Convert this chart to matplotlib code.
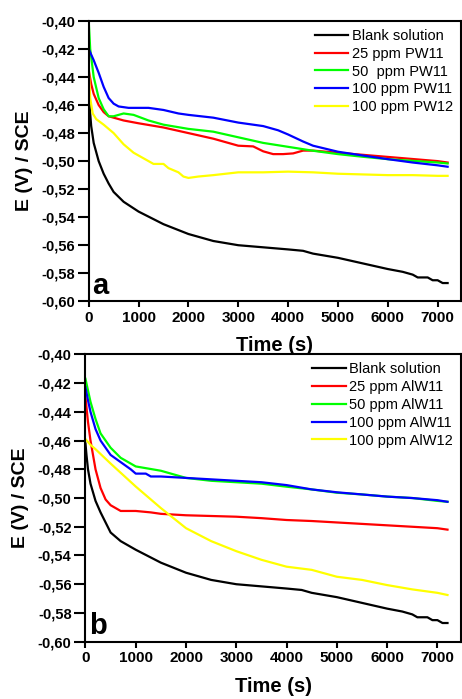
import matplotlib
matplotlib.use("Agg")
import matplotlib.pyplot as plt
from matplotlib.ticker import FuncFormatter

plt.rcParams["font.family"] = ["Liberation Sans", "DejaVu Sans"]

# ---- panel a (PW series) ----
a_black_t = [0, 20, 50, 100, 200, 300, 400, 500, 700, 1000, 1500, 2000, 2500, 3000, 3500, 4000,
             4300, 4500, 5000, 5500, 6000, 6300, 6500, 6600, 6800, 6900, 7000, 7100, 7200]
a_black = [-0.450, -0.462, -0.475, -0.487, -0.500, -0.509, -0.516, -0.522, -0.529, -0.536, -0.545,
           -0.552, -0.557, -0.560, -0.5615, -0.563, -0.564, -0.566, -0.569, -0.573, -0.577, -0.579,
           -0.581, -0.583, -0.583, -0.585, -0.585, -0.587, -0.587]

a_red_t = [0, 50, 100, 200, 300, 400, 500, 700, 1000, 1500, 2000, 2500, 3000, 3300, 3500, 3700,
           3900, 4100, 4300, 4500, 5000, 5500, 6000, 6500, 7000, 7200]
a_red = [-0.435, -0.445, -0.452, -0.460, -0.465, -0.468, -0.469, -0.471, -0.473, -0.476, -0.480,
         -0.484, -0.489, -0.4895, -0.493, -0.495, -0.495, -0.4945, -0.4925, -0.4925, -0.494, -0.4955,
         -0.497, -0.4985, -0.500, -0.501]

a_green_t = [0, 30, 100, 200, 300, 400, 500, 700, 900, 1200, 1500, 2000, 2500, 3000, 3500, 4000,
             4500, 5000, 5500, 6000, 6500, 7000, 7200]
a_green = [-0.400, -0.420, -0.440, -0.455, -0.463, -0.468, -0.468, -0.466, -0.467, -0.471, -0.474,
           -0.477, -0.479, -0.483, -0.487, -0.4898, -0.4926, -0.495, -0.4969, -0.4986, -0.4998,
           -0.501, -0.5017]

a_blue_t = [0, 50, 100, 200, 300, 400, 500, 600, 800, 1000, 1200, 1500, 1800, 2000, 2500, 3000,
            3500, 3800, 4000, 4300, 4500, 5000, 5500, 6000, 6500, 7000, 7200]
a_blue = [-0.420, -0.424, -0.428, -0.437, -0.447, -0.455, -0.459, -0.461, -0.462, -0.462, -0.462,
          -0.4635, -0.466, -0.467, -0.469, -0.4725, -0.475, -0.478, -0.481, -0.486, -0.489, -0.4933,
          -0.496, -0.4986, -0.501, -0.503, -0.504]

a_yellow_t = [0, 30, 80, 150, 300, 500, 700, 900, 1100, 1300, 1500, 1600, 1800, 1900, 2000, 2200,
              2500, 3000, 3500, 4000, 4500, 5000, 5500, 6000, 6500, 7000, 7200]
a_yellow = [-0.433, -0.455, -0.466, -0.470, -0.474, -0.480, -0.488, -0.494, -0.498, -0.502, -0.502,
            -0.505, -0.508, -0.511, -0.512, -0.511, -0.510, -0.508, -0.508, -0.5075, -0.508,
            -0.509, -0.5095, -0.510, -0.510, -0.5105, -0.5105]

# ---- panel b (AlW series) ----
b_black_t = a_black_t
b_black = [-0.462, -0.470, -0.480, -0.490, -0.502, -0.510, -0.517, -0.524, -0.530, -0.536, -0.545,
           -0.552, -0.557, -0.560, -0.5615, -0.563, -0.564, -0.566, -0.569, -0.573, -0.577, -0.579,
           -0.581, -0.583, -0.583, -0.585, -0.585, -0.587, -0.587]

b_red_t = [0, 50, 100, 200, 300, 400, 500, 700, 1000, 1300, 1500, 2000, 2500, 3000, 3500, 4000,
           4500, 5000, 5500, 6000, 6500, 7000, 7200]
b_red = [-0.430, -0.447, -0.460, -0.480, -0.493, -0.501, -0.505, -0.509, -0.509, -0.510, -0.511,
         -0.512, -0.5125, -0.513, -0.514, -0.5153, -0.516, -0.517, -0.518, -0.519, -0.520, -0.521,
         -0.522]

b_green_t = [0, 50, 100, 200, 300, 500, 700, 1000, 1500, 2000, 2500, 3000, 3500, 4000, 4500, 5000,
             5500, 6000, 6500, 7000, 7200]
b_green = [-0.417, -0.425, -0.433, -0.445, -0.455, -0.465, -0.472, -0.478, -0.481, -0.486, -0.488,
           -0.489, -0.490, -0.4921, -0.494, -0.4963, -0.4975, -0.499, -0.500, -0.502, -0.5026]

b_blue_t = [0, 50, 100, 200, 300, 500, 700, 900, 1000, 1200, 1300, 1500, 2000, 2500, 3000, 3500,
            4000, 4500, 5000, 5500, 6000, 6500, 7000, 7200]
b_blue = [-0.423, -0.432, -0.440, -0.452, -0.460, -0.470, -0.475, -0.480, -0.483, -0.483, -0.485,
          -0.485, -0.486, -0.487, -0.488, -0.489, -0.491, -0.494, -0.496, -0.4975, -0.499, -0.500,
          -0.5015, -0.5026]

b_yellow_t = [0, 100, 200, 500, 1000, 1500, 2000, 2500, 3000, 3500, 4000, 4500, 5000, 5500, 6000,
              6500, 7000, 7200]
b_yellow = [-0.459, -0.463, -0.466, -0.476, -0.492, -0.507, -0.521, -0.530, -0.537, -0.543, -0.5478,
            -0.550, -0.5548, -0.557, -0.5606, -0.5636, -0.566, -0.5675]

colors = ["#000000", "#ff0000", "#00ff00", "#0000ff", "#ffff00"]
labels_a = ["Blank solution", "25 ppm PW11", "50  ppm PW11", "100 ppm PW11", "100 ppm PW12"]
labels_b = ["Blank solution", "25 ppm AlW11", "50 ppm AlW11", "100 ppm AlW11", "100 ppm AlW12"]

panels = [
    ([(a_black_t, a_black), (a_red_t, a_red), (a_green_t, a_green), (a_blue_t, a_blue),
      (a_yellow_t, a_yellow)], labels_a, "a", [0.192, 0.569, 0.806, 0.401]),
    ([(b_black_t, b_black), (b_red_t, b_red), (b_green_t, b_green), (b_blue_t, b_blue),
      (b_yellow_t, b_yellow)], labels_b, "b", [0.185, 0.082, 0.813, 0.411]),
]

fig = plt.figure(figsize=(4.62, 6.99), dpi=100)

comma = FuncFormatter(lambda v, pos: f"{v:.2f}".replace(".", ","))

for series, labels, tag, rect in panels:
    ax = fig.add_axes(rect)
    for (t, e), c, lab in zip(series, colors, labels):
        ax.plot(t, e, color=c, lw=1.6, label=lab)
    ax.set_xlim(0, 7470)
    ax.set_ylim(-0.60, -0.40)
    ax.set_xticks(range(0, 7001, 1000))
    ax.set_yticks([-0.60 + 0.02 * i for i in range(11)])
    ax.yaxis.set_major_formatter(comma)
    ax.tick_params(axis="x", direction="out", length=4, width=1.5, labelsize=11, pad=3)
    ax.tick_params(axis="y", direction="out", length=8, width=1.5, labelsize=10.5, pad=2)
    for lbl in ax.get_xticklabels() + ax.get_yticklabels():
        lbl.set_fontweight("bold")
    for s in ax.spines.values():
        s.set_linewidth(1.5)
    ax.set_xlabel("Time (s)", fontsize=14.5, fontweight="bold", labelpad=8)
    ax.set_ylabel("E (V) / SCE", fontsize=14, fontweight="bold", labelpad=6)
    ax.text(0.01, 0.005, tag, transform=ax.transAxes, fontsize=21, fontweight="bold",
            ha="left", va="bottom")
    ax.legend(loc="upper right", frameon=False, fontsize=10.5, handlelength=2.3,
              handletextpad=0.25, labelspacing=0.26, borderaxespad=0.15)

fig.savefig("out.png", dpi=100)
